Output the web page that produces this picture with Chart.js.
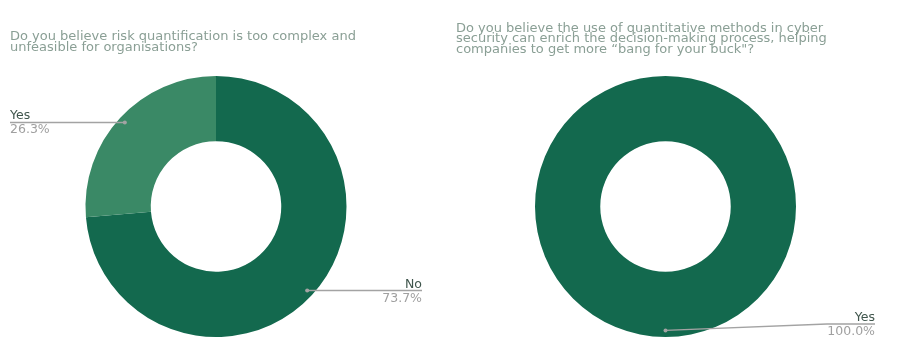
<!DOCTYPE html>
<html>
<head>
<meta charset="utf-8">
<script src="https://cdn.jsdelivr.net/npm/chart.js@4/dist/chart.umd.min.js"></script>
<style>
  body { margin: 0; background: #fff; }
  .panel { position: absolute; top: 0; height: 348px; }
</style>
</head>
<body>
<div class="panel" style="left:0;width:450px"><canvas id="riskChart" width="450" height="348"></canvas></div>
<div class="panel" style="left:450px;width:453px"><canvas id="quantChart" width="453" height="348"></canvas></div>
<script>
// survey answers
const riskTitle = ['Do you believe risk quantification is too complex and', 'unfeasible for organisations?'];
const riskLabels = ['No', 'Yes'];
const riskValues = [73.7, 26.3];

const quantTitle = ['Do you believe the use of quantitative methods in cyber', 'security can enrich the decision-making process, helping', 'companies to get more \u201Cbang for your buck"?'];
const quantLabels = ['Yes'];
const quantValues = [100];

const fontFamily = '"DejaVu Sans", sans-serif';

// callout labels: dot on the slice, leader line to the edge, name above and % below
const sliceLabels = {
  id: 'sliceLabels',
  afterDatasetsDraw(chart) {
    const { ctx, chartArea } = chart;
    const values = chart.data.datasets[0].data;
    const total = values.reduce((a, b) => a + b, 0);
    chart.getDatasetMeta(0).data.forEach((arc, i) => {
      const p = arc.getProps(['x', 'y', 'startAngle', 'endAngle', 'outerRadius'], true);
      const mid = (p.startAngle + p.endAngle) / 2;
      const r = p.outerRadius * 0.95;
      const px = p.x + Math.cos(mid) * r;
      const py = p.y + Math.sin(mid) * r;
      const right = Math.cos(mid) > -1e-6;
      const endX = right ? chartArea.right : chartArea.left;
      const elbowX = right ? endX - 48 : endX + 48;
      const ly = Math.min(py, chartArea.bottom - 13);

      ctx.save();
      ctx.strokeStyle = '#a3a3a3';
      ctx.lineWidth = 1.3;
      ctx.beginPath();
      ctx.moveTo(px, py);
      ctx.lineTo(elbowX, ly);
      ctx.lineTo(endX, ly);
      ctx.stroke();
      ctx.fillStyle = '#a3a3a3';
      ctx.beginPath();
      ctx.arc(px, py, 2, 0, Math.PI * 2);
      ctx.fill();

      ctx.textAlign = right ? 'right' : 'left';
      ctx.textBaseline = 'alphabetic';
      ctx.font = '12.5px ' + fontFamily;
      ctx.fillStyle = '#3f554c';
      ctx.fillText(chart.data.labels[i], endX, ly - 3);
      ctx.fillStyle = '#a0a0a0';
      ctx.fillText((values[i] / total * 100).toFixed(1) + '%', endX, ly + 11);
      ctx.restore();
    });
  }
};

function makeDonut(id, title, labels, values, colors, pad, titlePad, lineH) {
  return new Chart(document.getElementById(id), {
    type: 'doughnut',
    data: {
      labels: labels,
      datasets: [{
        data: values,
        backgroundColor: colors,
        borderWidth: 0
      }]
    },
    options: {
      responsive: false,
      animation: false,
      cutout: '50%',
      layout: { padding: pad },
      plugins: {
        legend: { display: false },
        tooltip: { enabled: false },
        title: {
          display: true,
          text: title,
          align: 'start',
          color: '#8a9f95',
          font: { family: fontFamily, size: 13, weight: 'normal', lineHeight: lineH },
          padding: titlePad
        }
      }
    },
    plugins: [sliceLabels]
  });
}

makeDonut('riskChart', riskTitle, riskLabels, riskValues, ['#13694e', '#3a8966'],
  { left: 10, right: 28, top: 0, bottom: 11 }, { top: 31, bottom: 23 }, '11px');
makeDonut('quantChart', quantTitle, quantLabels, quantValues, ['#13694e'],
  { left: 6, right: 28, top: 0, bottom: 11 }, { top: 23.2, bottom: 21.3 }, '10.5px');
</script>
</body>
</html>
